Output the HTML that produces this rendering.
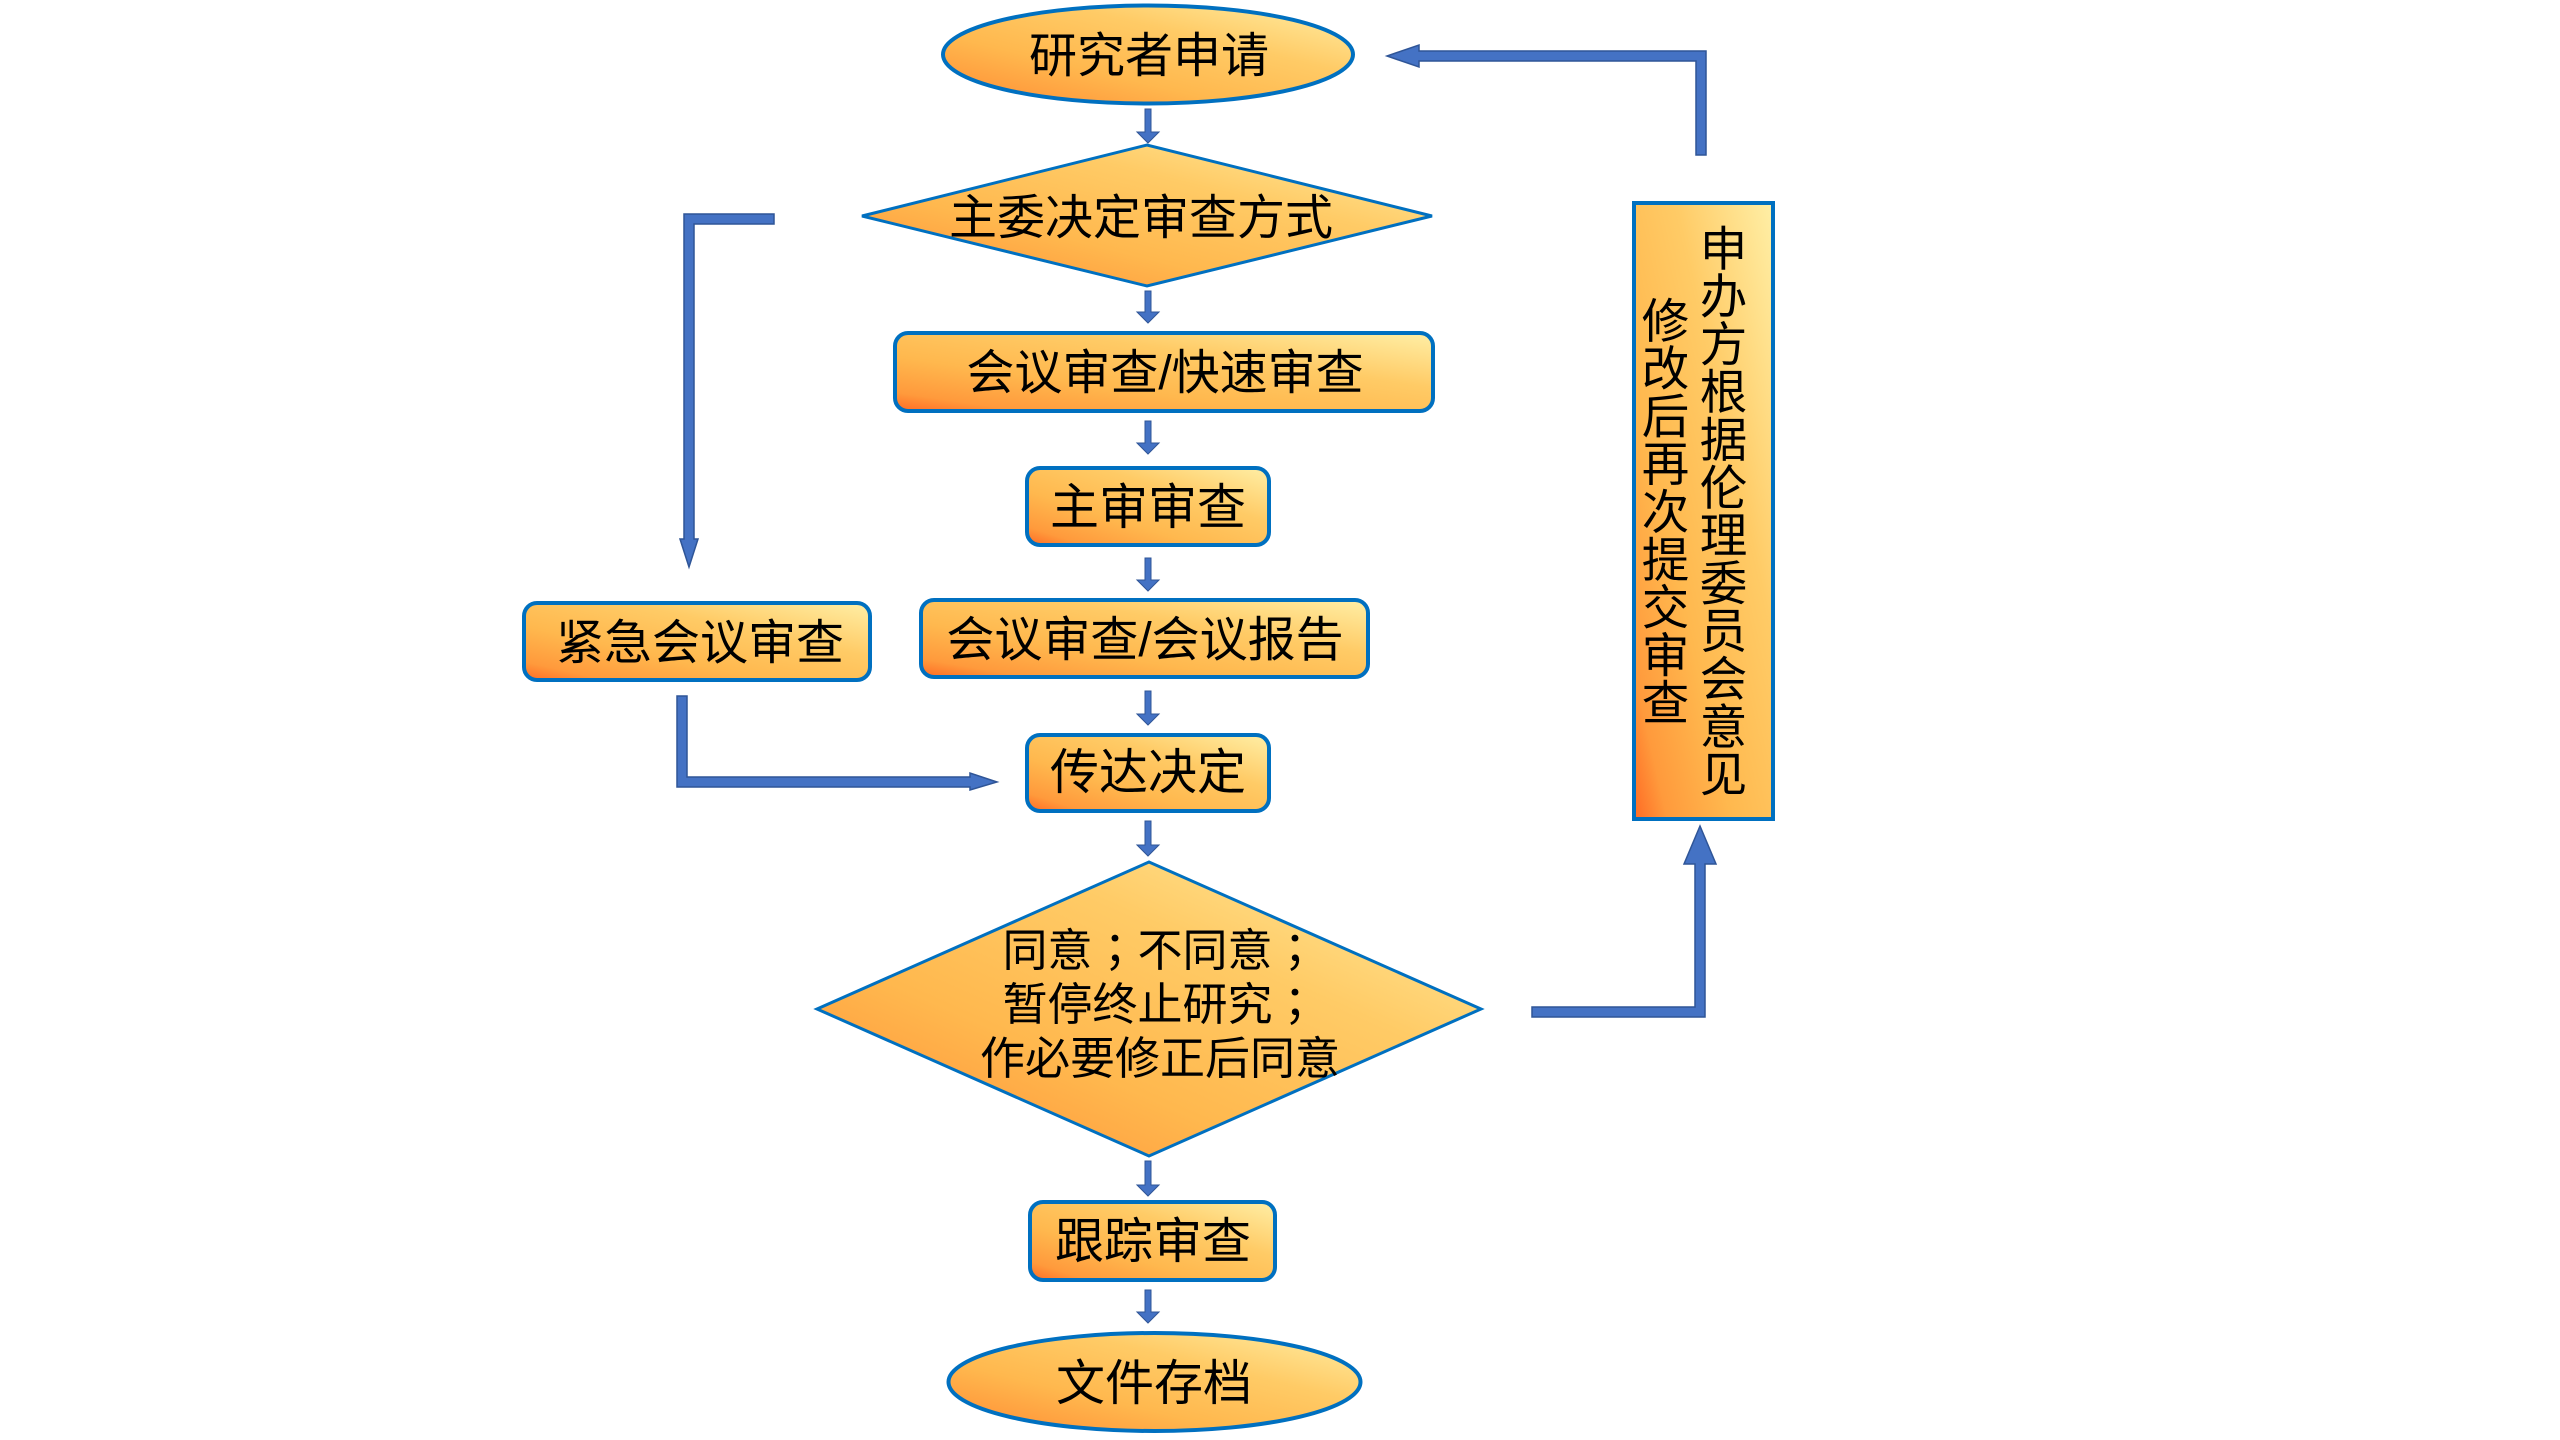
<!DOCTYPE html>
<html>
<head>
<meta charset="utf-8">
<style>
  html,body{margin:0;padding:0;background:#fff;}
  body{width:2560px;height:1440px;position:relative;overflow:hidden;
       font-family:"Liberation Sans","Noto Sans CJK SC",sans-serif;}
  svg{position:absolute;left:0;top:0;}
  .t{font-family:"Liberation Sans","Noto Sans CJK SC",sans-serif;fill:#000;}
  .p{font-family:"Liberation Sans","Noto Sans CJK TC","Noto Sans CJK JP",sans-serif;}
  .vt{position:absolute;left:1631px;top:201px;width:116px;height:620px;
      writing-mode:vertical-rl;text-orientation:upright;text-align:center;
      font-size:47.5px;line-height:58px;letter-spacing:0.3px;color:#000;
      font-family:"Liberation Sans","Noto Sans CJK SC",sans-serif;white-space:nowrap;}
</style>
</head>
<body>
<svg width="2560" height="1440" viewBox="0 0 2560 1440" xmlns="http://www.w3.org/2000/svg">
  <defs>
    <linearGradient id="g" x1="0" y1="1" x2="1" y2="0">
      <stop offset="0" stop-color="#FF6A24"/>
      <stop offset="0.12" stop-color="#FF9A3C"/>
      <stop offset="0.35" stop-color="#FFB84E"/>
      <stop offset="0.65" stop-color="#FFCB66"/>
      <stop offset="1" stop-color="#FFEFA6"/>
    </linearGradient>
  </defs>

  <!-- Ellipse top -->
  <ellipse cx="1148" cy="54.5" rx="205" ry="49" fill="url(#g)" stroke="#0070C0" stroke-width="4"/>
  <text class="t" x="1149" y="72" font-size="48" text-anchor="middle">研究者申请</text>

  <!-- Diamond 1 -->
  <polygon points="862,216 1147,145 1432,216 1147,286" fill="url(#g)" stroke="#0070C0" stroke-width="3"/>
  <text class="t" x="1141" y="234" font-size="48" text-anchor="middle">主委决定审查方式</text>

  <!-- Box: 会议审查/快速审查 -->
  <rect x="895" y="333" width="538" height="78" rx="13" fill="url(#g)" stroke="#0070C0" stroke-width="4"/>
  <text class="t" x="1165" y="389" font-size="48" text-anchor="middle">会议审查/快速审查</text>

  <!-- Box: 主审审查 -->
  <rect x="1027" y="468" width="242" height="77" rx="13" fill="url(#g)" stroke="#0070C0" stroke-width="4"/>
  <text class="t" x="1148" y="524" font-size="49" text-anchor="middle">主审审查</text>

  <!-- Box: 紧急会议审查 -->
  <rect x="524" y="603" width="346" height="77" rx="13" fill="url(#g)" stroke="#0070C0" stroke-width="4"/>
  <text class="t" x="700" y="659" font-size="48" text-anchor="middle">紧急会议审查</text>

  <!-- Box: 会议审查/会议报告 -->
  <rect x="921" y="600" width="447" height="77" rx="13" fill="url(#g)" stroke="#0070C0" stroke-width="4"/>
  <text class="t" x="1145" y="656" font-size="48" text-anchor="middle">会议审查/会议报告</text>

  <!-- Box: 传达决定 -->
  <rect x="1027" y="735" width="242" height="76" rx="13" fill="url(#g)" stroke="#0070C0" stroke-width="4"/>
  <text class="t" x="1148" y="789" font-size="49" text-anchor="middle">传达决定</text>

  <!-- Diamond 2 -->
  <polygon points="817,1009 1149,862 1481,1009 1149,1156" fill="url(#g)" stroke="#0070C0" stroke-width="3"/>
  <text class="t" x="1160" y="966" font-size="45" text-anchor="middle">同意<tspan class="p">；</tspan>不同意<tspan class="p">；</tspan></text>
  <text class="t" x="1160" y="1020" font-size="45" text-anchor="middle">暂停终止研究<tspan class="p">；</tspan></text>
  <text class="t" x="1160" y="1074" font-size="45" text-anchor="middle">作必要修正后同意</text>

  <!-- Box: 跟踪审查 -->
  <rect x="1030" y="1202" width="245" height="78" rx="13" fill="url(#g)" stroke="#0070C0" stroke-width="4"/>
  <text class="t" x="1153" y="1258" font-size="49" text-anchor="middle">跟踪审查</text>

  <!-- Ellipse bottom -->
  <ellipse cx="1154.5" cy="1382" rx="206" ry="49" fill="url(#g)" stroke="#0070C0" stroke-width="4"/>
  <text class="t" x="1154" y="1400" font-size="49" text-anchor="middle">文件存档</text>

  <!-- Vertical box -->
  <rect x="1634" y="203" width="139" height="616" fill="url(#g)" stroke="#0070C0" stroke-width="4"/>

  <!-- Small down arrows -->
  <g fill="#4472C4" stroke="#2F5597" stroke-width="1">
    <polygon points="1145,109 1151,109 1151,132 1159,132 1148,143 1137,132 1145,132"/>
    <polygon points="1145,291 1151,291 1151,312 1159,312 1148,323 1137,312 1145,312"/>
    <polygon points="1145,421 1151,421 1151,443 1159,443 1148,454 1137,443 1145,443"/>
    <polygon points="1145,558 1151,558 1151,580 1159,580 1148,591 1137,580 1145,580"/>
    <polygon points="1145,691 1151,691 1151,714 1159,714 1148,725 1137,714 1145,714"/>
    <polygon points="1145,821 1151,821 1151,845 1159,845 1148,856 1137,845 1145,845"/>
    <polygon points="1145,1161 1151,1161 1151,1185 1159,1185 1148,1196 1137,1185 1145,1185"/>
    <polygon points="1145,1290 1151,1290 1151,1312 1159,1312 1148,1323 1137,1312 1145,1312"/>
  </g>

  <!-- Thick connectors -->
  <g fill="#4472C4" stroke="#2F5597" stroke-width="1.5" stroke-linejoin="miter">
    <polygon points="774,214 684,214 684,539 680,539 689,567 698,539 694,539 694,224 774,224"/>
    <polygon points="677,696 687,696 687,777 970,777 970,773 997,782 970,790 970,787 677,787"/>
    <polygon points="1532,1007 1695,1007 1695,864 1684,864 1700,826 1716,864 1705,864 1705,1017 1532,1017"/>
    <polygon points="1706,155 1696,155 1696,61 1419,61 1419,67 1387,56 1419,45 1419,51 1706,51"/>
  </g>
</svg>

<div class="vt">申办方根据伦理委员会意见<br>修改后再次提交审查</div>
</body>
</html>
